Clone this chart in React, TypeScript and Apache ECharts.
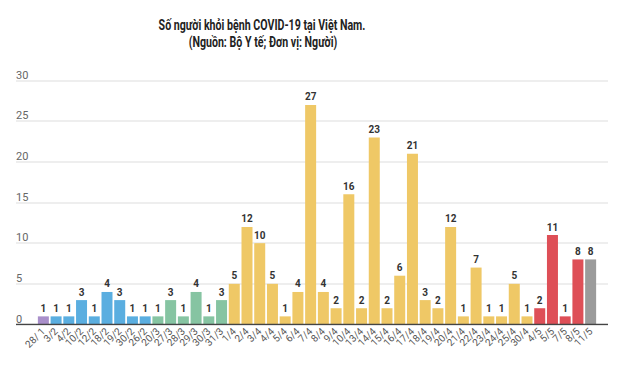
import React, { useEffect, useRef } from "react";
import * as echarts from "echarts";

const categories = [
  "28/ 1", "3/2", "4/2", "10/2", "12/2", "18/2", "19/2", "30/2", "26/2",
  "20/3", "27/3", "28/3", "29/3", "30/3", "31/3",
  "1/4", "2/4", "3/4", "4/4", "5/4", "6/4", "7/4", "8/4", "9/4", "10/4",
  "13/4", "14/4", "15/4", "16/4", "17/4", "18/4", "19/4", "20/4", "21/4",
  "22/4", "23/4", "24/4", "25/4", "30/4",
  "4/5", "5/5", "7/5", "8/5", "11/5",
];

const recovered = [
  1, 1, 1, 3, 1, 4, 3, 1, 1,
  1, 3, 1, 4, 1, 3,
  5, 12, 10, 5, 1, 4, 27, 4, 2, 16,
  2, 23, 2, 6, 21, 3, 2, 12, 1,
  7, 1, 1, 5, 1,
  2, 11, 1, 8, 8,
];

const phases = [
  "a", "b", "b", "b", "b", "b", "b", "b", "b",
  "c", "c", "c", "c", "c", "c",
  "d", "d", "d", "d", "d", "d", "d", "d", "d", "d",
  "d", "d", "d", "d", "d", "d", "d", "d", "d",
  "d", "d", "d", "d", "d",
  "e", "e", "e", "e", "f",
];

const yTicks = [0, 5, 10, 15, 20, 25, 30];

const titleLines = [
  "Số người khỏi bệnh COVID-19 tại Việt Nam.",
  "(Nguồn: Bộ Y tế; Đơn vị: Người)",
];

const phaseColors: Record<string, string> = {
  a: "#a98fca",
  b: "#5aaee0",
  c: "#86c4a2",
  d: "#efc866",
  e: "#de4f57",
  f: "#9b9b9b",
};

export default function App() {
  const ref = useRef<HTMLDivElement>(null);
  useEffect(() => {
    if (!ref.current) return;
    const chart = echarts.init(ref.current, null, { renderer: "svg" });
    const top = 80.5;
    const bottom = 43.5;
    const titleStyle = {
      fontFamily: "Roboto, sans-serif",
      fontSize: 14,
      fontWeight: "bold",
      fill: "#222",
      textAlign: "center",
      textVerticalAlign: "middle",
    };
    chart.setOption({
      animation: false,
      backgroundColor: "#ffffff",
      graphic: [
        {
          type: "text",
          x: 262,
          y: 25,
          scaleX: 0.76,
          silent: true,
          style: { ...titleStyle, text: titleLines[0] },
        },
        {
          type: "text",
          x: 263,
          y: 42,
          scaleX: 0.76,
          silent: true,
          style: { ...titleStyle, text: titleLines[1] },
        },
      ],
      grid: [
        { left: 16, right: 12, top, bottom },
        { left: 37, right: 23, top, bottom },
      ],
      xAxis: [
        { type: "value", gridIndex: 0, show: false, min: 0, max: 1 },
        {
          type: "category",
          gridIndex: 1,
          data: categories,
          axisLine: { show: false },
          axisTick: { show: false },
          axisLabel: {
            rotate: 45,
            interval: 0,
            fontSize: 10,
            color: "#555",
            margin: 5,
            fontFamily: "Roboto, sans-serif",
          },
        },
      ],
      yAxis: [
        {
          type: "value",
          gridIndex: 0,
          min: yTicks[0],
          max: yTicks[yTicks.length - 1],
          interval: 5,
          axisLine: { show: false },
          axisTick: { show: false },
          splitLine: { lineStyle: { color: "#e8e8e8", width: 1.5 } },
          axisLabel: {
            inside: true,
            verticalAlign: "bottom",
            margin: 0,
            padding: [0, 0, 0, 0],
            fontSize: 11,
            color: "#666",
            fontFamily: "Roboto, sans-serif",
            formatter: (v: number) => String(v),
          },
        },
        {
          type: "value",
          gridIndex: 1,
          min: yTicks[0],
          max: yTicks[yTicks.length - 1],
          interval: 5,
          show: false,
          splitLine: { show: false },
        },
      ],
      series: [
        {
          type: "line",
          xAxisIndex: 0,
          yAxisIndex: 0,
          data: [[0, 0], [1, 0]],
          symbol: "none",
          lineStyle: { color: "#444", width: 1.5 },
          silent: true,
          z: 5,
        },
        {
          type: "bar",
          xAxisIndex: 1,
          yAxisIndex: 1,
          barWidth: 11,
          data: recovered.map((v, i) => ({
            value: v,
            itemStyle: { color: phaseColors[phases[i]] },
          })),
          label: {
            show: true,
            position: "top",
            distance: 3,
            fontSize: 10,
            fontWeight: "bold",
            color: "#333",
            fontFamily: "Roboto, sans-serif",
          },
        },
      ],
    });
    return () => chart.dispose();
  }, []);
  return <div ref={ref} style={{ width: 620, height: 368, position: "absolute", left: 0, top: 0 }} />;
}
